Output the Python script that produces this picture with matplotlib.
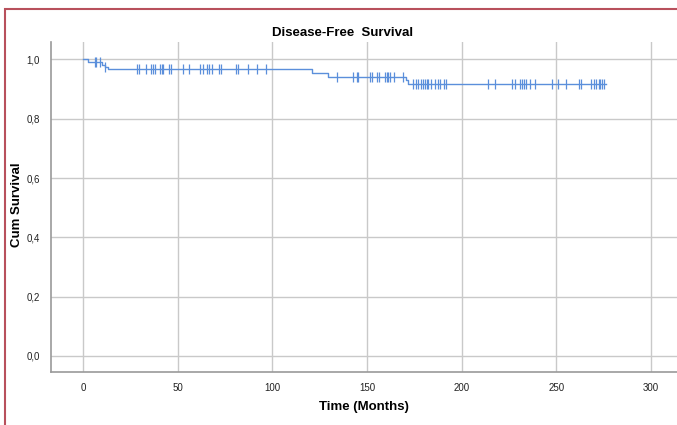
import numpy as np
import matplotlib
matplotlib.use("Agg")
import matplotlib.pyplot as plt
from matplotlib.patches import Rectangle

plt.rcParams['font.family'] = ['Liberation Sans', 'DejaVu Sans']

# Kaplan-Meier steps (event times and survival after each event)
start_time = 0.0
event_times = [2.6, 10.0, 11.5, 13.2, 120.8, 129.6, 170.5, 171.5]
surv_after = [0.992, 0.983, 0.975, 0.967, 0.955, 0.942, 0.930, 0.918]
end_time = 276.5

# censored observations
censor_times = [6.2, 7.0, 8.8, 11.8,
                28.6, 29.5, 33.5, 35.8, 37.1, 38.0, 40.7, 41.6, 42.4, 45.6, 46.3,
                53.0, 56.2, 61.8, 63.2, 65.3, 66.7, 68.0, 72.0, 72.7, 80.8, 82.0,
                87.3, 91.8, 96.7,
                134.3, 142.8, 144.6, 145.4, 151.6, 152.5, 155.1, 156.4, 159.5,
                160.4, 161.3, 162.2, 164.3, 169.2,
                174.5, 175.8, 176.8, 178.6, 179.8, 180.7, 181.6, 182.4, 183.8,
                186.0, 187.4, 188.6, 190.9, 191.6,
                214.1, 217.6, 226.4, 228.1, 230.8, 232.1, 233.1, 233.8, 236.1,
                238.8, 247.6, 250.8, 255.0, 261.8, 263.2, 268.5, 269.7, 271.1,
                272.4, 273.2, 274.1, 275.0]

x_ticks = [0, 50, 100, 150, 200, 250, 300]
y_ticks = [0.0, 0.2, 0.4, 0.6, 0.8, 1.0]

line_color = '#5b8fdb'

fig = plt.figure(figsize=(6.77, 4.25), dpi=100)
ax = fig.add_axes([51 / 677, 1 - 372 / 425, 1 - 51 / 677, (372 - 42) / 425])

t = [start_time] + event_times + [end_time]
s = [1.0] + surv_after + [surv_after[-1]]
ax.step(t, s, where='post', color=line_color, lw=1.0, zorder=3)

# survival level at each censor time
ev = np.array(event_times)
sv = np.array([1.0] + surv_after)
cs = sv[np.searchsorted(ev, np.array(censor_times), side='right')]
ax.plot(censor_times, cs, ls='none', marker='|', ms=6.5, mew=0.9,
        color=line_color, zorder=3)

ax.set_xlim(-16.9, 313.8)
ax.set_ylim(-0.054, 1.059)
ax.set_xticks(x_ticks)
ax.set_yticks(y_ticks)
ax.set_xticklabels([str(v) for v in x_ticks])
ax.set_yticklabels([f"{v:.1f}".replace('.', ',') for v in y_ticks])
ax.tick_params(length=0, labelsize=7, colors='#222222', pad=8)
ax.grid(True, color='#c9c9c9', lw=1.0)
ax.set_axisbelow(True)

for side in ['top', 'right']:
    ax.spines[side].set_visible(False)
for side in ['left', 'bottom']:
    ax.spines[side].set_color('#9a9a9a')
    ax.spines[side].set_linewidth(1.2)

fig.text(343 / 677, 1 - 33 / 425, 'Disease-Free  Survival', ha='center',
         va='center', fontsize=9.5, fontweight='bold')
fig.text(364 / 677, 1 - 407 / 425, 'Time (Months)', ha='center',
         va='center', fontsize=9.5, fontweight='bold')
fig.text(17 / 677, 1 - 205 / 425, 'Cum Survival', ha='center', va='center',
         rotation=90, fontsize=9.5, fontweight='bold')

# red frame around the picture
fig.patches.append(Rectangle((5 / 677, -0.05), 1.1, 1 - 9 / 425 + 0.05,
                             transform=fig.transFigure, fill=False,
                             edgecolor='#b8505c', lw=1.5))

fig.savefig('out.png', dpi=100, facecolor='white')
